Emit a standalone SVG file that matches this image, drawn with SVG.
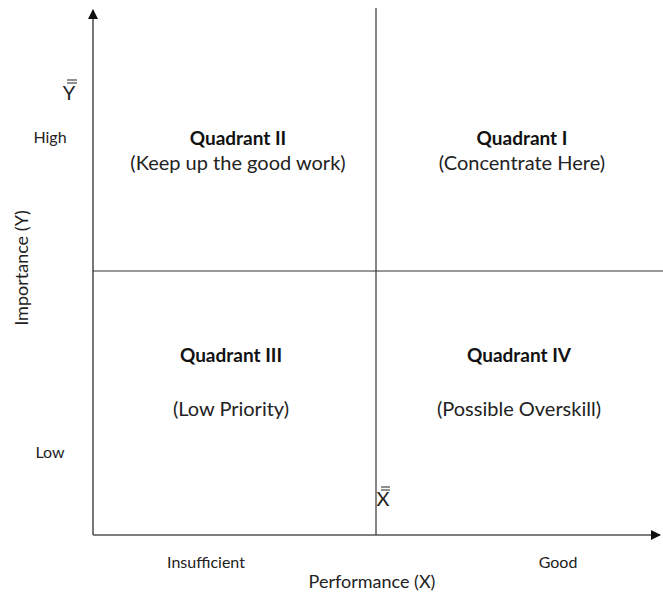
<svg xmlns="http://www.w3.org/2000/svg" width="663" height="593" viewBox="0 0 663 593">
<style>
text{font-family:Lato,"Open Sans",sans-serif;fill:#222;}
.t{font-size:19px;font-weight:bold;text-anchor:middle;fill:#111;}
.s{font-size:20px;text-anchor:middle;}
.a{font-size:16px;text-anchor:middle;}
.v{font-size:20px;text-anchor:middle;}
.p{font-size:18px;text-anchor:middle;}
.ax{stroke:#555;stroke-width:1.6;fill:none;}
.dv{stroke:#333;stroke-width:1.2;fill:none;}
.bar{stroke:#222;stroke-width:1;}
</style>
<defs>
<marker id="arr" markerWidth="10" markerHeight="10" refX="9" refY="5" orient="auto" markerUnits="userSpaceOnUse">
<path d="M0,0 L10,5 L0,10 Z" fill="#111"/>
</marker>
</defs>
<rect width="663" height="593" fill="#fff"/>
<g id="connectors">
<line class="ax" x1="93" y1="535" x2="93" y2="10" marker-end="url(#arr)"/>
<line class="ax" x1="93" y1="535" x2="660" y2="535" marker-end="url(#arr)"/>
<line class="dv" x1="376" y1="8" x2="376" y2="535"/>
<line class="dv" x1="93" y1="271" x2="663" y2="271"/>
</g>
<g id="q2"><text class="t" x="238" y="145">Quadrant II</text><text class="s" x="238" y="170">(Keep up the good work)</text></g>
<g id="q1"><text class="t" x="522" y="145">Quadrant I</text><text class="s" x="522" y="170">(Concentrate Here)</text></g>
<g id="q3"><text class="t" x="231" y="362">Quadrant III</text><text class="s" x="231" y="416">(Low Priority)</text></g>
<g id="q4"><text class="t" x="519" y="362">Quadrant IV</text><text class="s" x="519" y="416">(Possible Overskill)</text></g>
<g id="labels">
<text class="v" x="69" y="100">Y</text>
<line class="bar" x1="67" y1="80" x2="77" y2="80"/>
<line class="bar" x1="67" y1="83" x2="77" y2="83"/>
<text class="v" x="383" y="506">X</text>
<line class="bar" x1="381" y1="487" x2="390" y2="487"/>
<line class="bar" x1="381" y1="490" x2="390" y2="490"/>
<text class="a" x="50" y="143">High</text>
<text class="a" x="50" y="458">Low</text>
<text class="a" x="206" y="568">Insufficient</text>
<text class="a" x="558" y="568">Good</text>
<text class="p" x="372" y="588">Performance (X)</text>
<text class="p" transform="translate(28,268) rotate(-90)">Importance (Y)</text>
</g>
</svg>
